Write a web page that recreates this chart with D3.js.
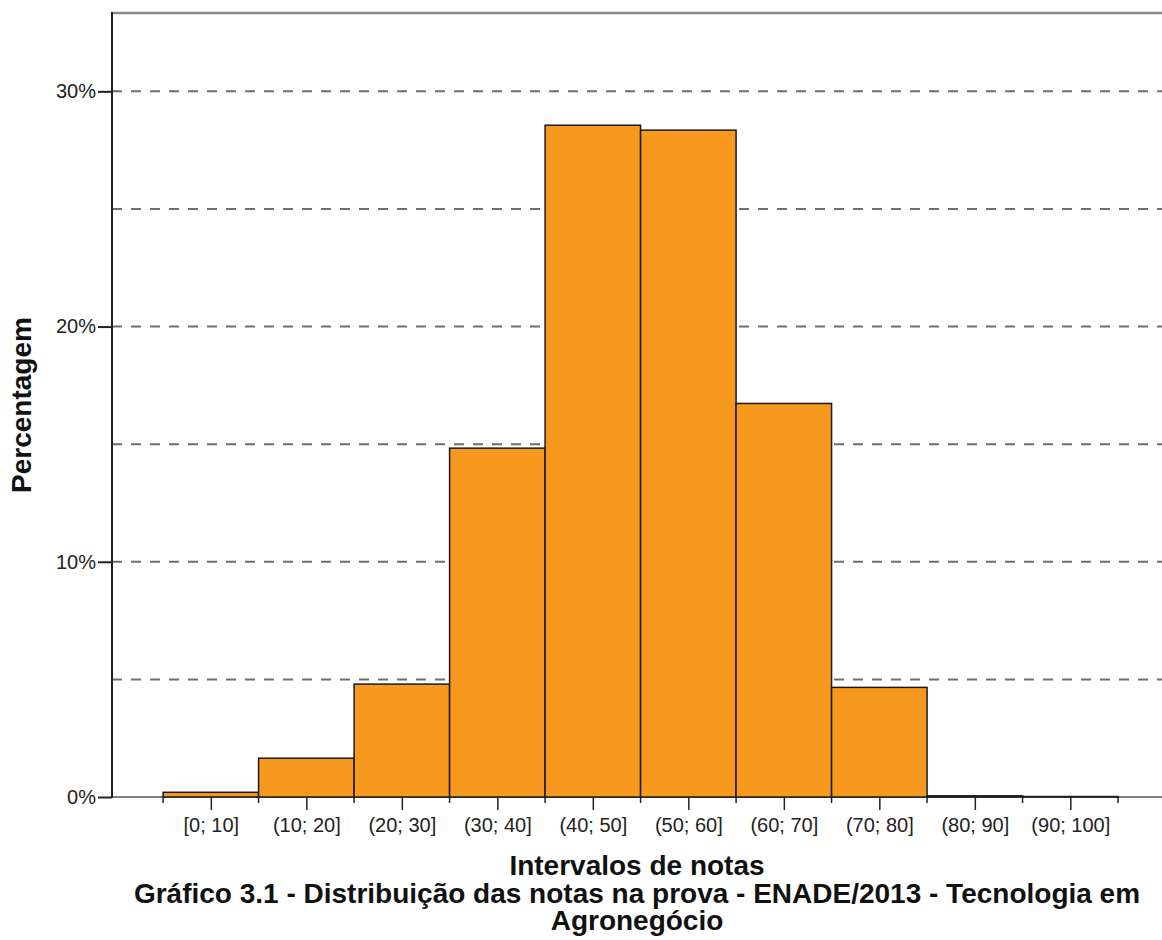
<!DOCTYPE html>
<html>
<head>
<meta charset="utf-8">
<script src="https://cdn.jsdelivr.net/npm/d3@7"></script>
<style>
  body { margin: 0; background: #fff; }
  svg { display: block; font-family: "Liberation Sans", Arial, sans-serif; }
</style>
</head>
<body>
<div id="chart"></div>
<script>
// size of the picture
const WIDTH = 1162;
const HEIGHT = 940;
const MARGIN = { TOP: 13, RIGHT: 0, BOTTOM: 143, LEFT: 112 };

// data
const bins = ["[0; 10]", "(10; 20]", "(20; 30]", "(30; 40]", "(40; 50]",
              "(50; 60]", "(60; 70]", "(70; 80]", "(80; 90]", "(90; 100]"];
const binStart = [0, 10, 20, 30, 40, 50, 60, 70, 80, 90];
const percent = [0.2, 1.65, 4.8, 14.83, 28.56, 28.35, 16.73, 4.66, 0.05, 0.02];
const yTicks = [0, 10, 20, 30];
const gridValues = [5, 10, 15, 20, 25, 30];

const svg = d3.select("#chart").append("svg")
    .attr("width", WIDTH)
    .attr("height", HEIGHT);

const x = d3.scaleLinear()
    .domain([-5.35, 104.6])
    .range([MARGIN.LEFT, WIDTH - MARGIN.RIGHT]);

const y = d3.scaleLinear()
    .domain([0, 33.33])
    .range([HEIGHT - MARGIN.BOTTOM, MARGIN.TOP]);

const y0 = y(0);

// dashed grid lines
svg.append("g")
    .selectAll("line")
    .data(gridValues)
    .join("line")
    .attr("x1", MARGIN.LEFT)
    .attr("x2", WIDTH)
    .attr("y1", d => y(d))
    .attr("y2", d => y(d))
    .attr("stroke", "#6e6e6e")
    .attr("stroke-width", 2)
    .attr("stroke-dasharray", "10,9");

// top frame
svg.append("line")
    .attr("x1", MARGIN.LEFT - 1).attr("x2", WIDTH)
    .attr("y1", MARGIN.TOP).attr("y2", MARGIN.TOP)
    .attr("stroke", "#8a8a8a")
    .attr("stroke-width", 2.5);

// baseline (gray)
svg.append("line")
    .attr("x1", MARGIN.LEFT).attr("x2", WIDTH)
    .attr("y1", y0).attr("y2", y0)
    .attr("stroke", "#555")
    .attr("stroke-width", 1.5);

// bars
svg.append("g")
    .selectAll("rect")
    .data(percent)
    .join("rect")
    .attr("x", (d, i) => x(binStart[i]))
    .attr("width", (d, i) => x(binStart[i] + 10) - x(binStart[i]))
    .attr("y", d => y(d))
    .attr("height", d => y0 - y(d))
    .attr("fill", "#f7991f")
    .attr("stroke", "#1a1a1a")
    .attr("stroke-width", 1.5);

// x axis: labels at bin centres, minor ticks at bin edges
const xAxis = d3.axisBottom(x)
    .tickValues(binStart.map(d => d + 5))
    .tickFormat((d, i) => bins[i])
    .tickSize(13)
    .tickPadding(8);

const gx = svg.append("g")
    .attr("transform", `translate(0,${y0})`)
    .call(xAxis);
gx.select(".domain").remove();
gx.selectAll(".tick line").attr("stroke", "#222").attr("stroke-width", 1.5);
gx.selectAll(".tick text")
    .attr("font-size", 20)
    .attr("font-family", "Liberation Sans, Arial, sans-serif")
    .attr("fill", "#222");

svg.append("g")
    .selectAll("line")
    .data(binStart.concat([100]))
    .join("line")
    .attr("x1", d => x(d)).attr("x2", d => x(d))
    .attr("y1", y0).attr("y2", y0 + 6)
    .attr("stroke", "#222")
    .attr("stroke-width", 1.5);

// y axis
const yAxis = d3.axisLeft(y)
    .tickValues(yTicks)
    .tickFormat(d => d + "%")
    .tickSize(14)
    .tickPadding(2);

const gy = svg.append("g")
    .attr("transform", `translate(${MARGIN.LEFT},0)`)
    .call(yAxis);
gy.select(".domain").remove();
gy.selectAll(".tick line").attr("stroke", "#222").attr("stroke-width", 2);
gy.selectAll(".tick text")
    .attr("font-size", 20)
    .attr("font-family", "Liberation Sans, Arial, sans-serif")
    .attr("fill", "#222");

svg.append("line")
    .attr("x1", MARGIN.LEFT).attr("x2", MARGIN.LEFT)
    .attr("y1", MARGIN.TOP - 1).attr("y2", y0 + 1)
    .attr("stroke", "#222")
    .attr("stroke-width", 2);

// axis titles and caption
const midX = (MARGIN.LEFT + WIDTH) / 2;

svg.append("text")
    .attr("transform", `translate(31,${(MARGIN.TOP + y0) / 2}) rotate(-90)`)
    .attr("text-anchor", "middle")
    .attr("font-size", 28)
    .attr("font-weight", "bold")
    .attr("fill", "#111")
    .text("Percentagem");

svg.append("text")
    .attr("x", midX).attr("y", 875)
    .attr("text-anchor", "middle")
    .attr("font-size", 28)
    .attr("font-weight", "bold")
    .attr("fill", "#111")
    .text("Intervalos de notas");

svg.append("text")
    .attr("x", midX).attr("y", 903)
    .attr("text-anchor", "middle")
    .attr("font-size", 28)
    .attr("font-weight", "bold")
    .attr("fill", "#111")
    .text("Gráfico 3.1 - Distribuição das notas na prova - ENADE/2013 - Tecnologia em");

svg.append("text")
    .attr("x", midX).attr("y", 930)
    .attr("text-anchor", "middle")
    .attr("font-size", 28)
    .attr("font-weight", "bold")
    .attr("fill", "#111")
    .text("Agronegócio");
</script>
</body>
</html>
